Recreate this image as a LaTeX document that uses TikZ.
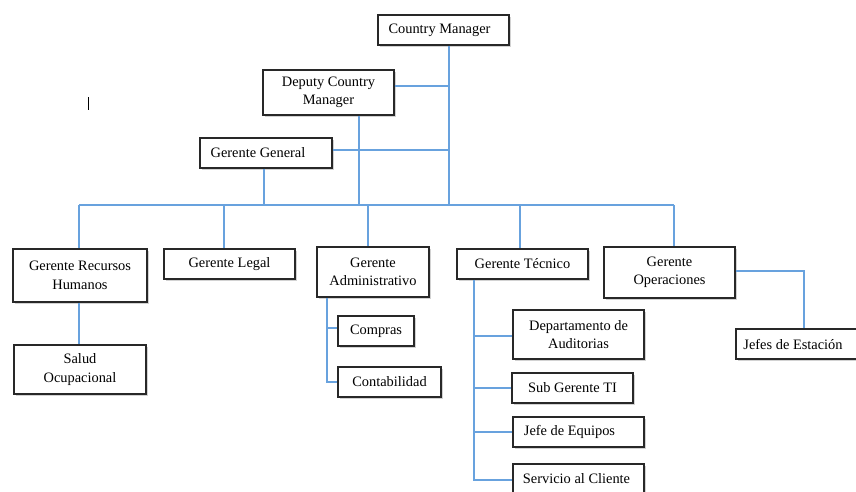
\documentclass[tikz,border=0pt]{standalone}
\usepackage{fontspec}
\setmainfont{Liberation Serif}
\usetikzlibrary{shadows}
\definecolor{linkblue}{RGB}{104,162,222}
\definecolor{boxline}{RGB}{40,40,40}
\begin{document}
\begin{tikzpicture}[x=1pt,y=-1pt,
  box/.style={draw=boxline,line width=1.1pt,fill=white,align=center,inner sep=0pt,
    font=\fontsize{14.4}{18.5}\selectfont,
    drop shadow={shadow xshift=1.5pt,shadow yshift=-1.5pt,opacity=0.35,fill=gray}},
  link/.style={draw=linkblue,line width=1.1pt}]
\useasboundingbox (0,0) rectangle (856,491);
\clip (0,0) rectangle (856,491);
\fill[white] (0,0) rectangle (856,491);

% text cursor mark
\draw[black,line width=1pt] (88,97) -- (88,110);

% top management
\node[box,minimum width=131pt,minimum height=30pt] (cm) at (443.5,30) {Country Manager\hspace*{8pt}};
\node[box,minimum width=131pt,minimum height=45pt] (dcm) at (328.5,92.5) {Deputy Country\\Manager};
\node[box,minimum width=132pt,minimum height=30pt] (gg) at (266,153) {Gerente General\hspace*{16pt}};

% managers
\node[box,minimum width=134pt,minimum height=53pt] (grh) at (80,275.5) {Gerente Recursos\\Humanos};
\node[box,minimum width=131pt,minimum height=30pt] (gl) at (229.5,264) {Gerente Legal};
\node[box,minimum width=112pt,minimum height=50pt] (ga) at (373,272) {Gerente\\Administrativo};
\node[box,minimum width=131pt,minimum height=30pt] (gt) at (522.5,264) {Gerente Técnico};
\node[box,minimum width=131pt,minimum height=51pt] (go) at (669.5,272.5) {Gerente\\Operaciones};

% departments
\node[box,minimum width=132pt,minimum height=49pt] (so) at (80,369.5) {Salud\\Ocupacional};
\node[box,minimum width=76pt,minimum height=30pt] (com) at (376,331) {Compras};
\node[box,minimum width=103pt,minimum height=30pt] (con) at (389.5,382) {Contabilidad};
\node[box,minimum width=131pt,minimum height=49pt] (da) at (578.5,334.5) {Departamento de\\Auditorias};
\node[box,minimum width=121pt,minimum height=30pt] (sg) at (572.5,388) {Sub Gerente TI};
\node[box,minimum width=131pt,minimum height=30pt] (je) at (578.5,432) {Jefe de Equipos\hspace*{18pt}};
\node[box,minimum width=131pt,minimum height=30pt] (sc) at (578.5,479) {Servicio al Cliente\hspace*{4pt}};
\node[box,minimum width=126pt,minimum height=30pt] (jes) at (799,344) {Jefes de Estación\hspace*{12pt}};

% junction points
\coordinate (trunk) at (449,205);
\coordinate (j1) at (449,86);
\coordinate (j2) at (449,150);
\coordinate (b1) at (79,205);
\coordinate (b2) at (264,205);
\coordinate (b3) at (359,205);
\coordinate (bl) at (224,205);
\coordinate (ba) at (368,205);
\coordinate (bt) at (520,205);
\coordinate (bo) at (674,205);
\coordinate (ta) at (327,382);
\coordinate (tt) at (474,480);
\coordinate (oc) at (804,271);

% top trunk and bus
\draw[link] (trunk |- cm.south) -- (trunk);
\draw[link] (j1 -| dcm.east) -- (j1);
\draw[link] (j2 -| gg.east) -- (j2);
\draw[link] (b3 |- dcm.south) -- (b3);
\draw[link] (b2 |- gg.south) -- (b2);
\draw[link] (b1) -- (bo);
\draw[link] (b1) -- (b1 |- grh.north);
\draw[link] (bl) -- (bl |- gl.north);
\draw[link] (ba) -- (ba |- ga.north);
\draw[link] (bt) -- (bt |- gt.north);
\draw[link] (bo) -- (bo |- go.north);

% branches below managers
\draw[link] (b1 |- grh.south) -- (b1 |- so.north);
\draw[link] (ta |- ga.south) -- (ta) -- (con.west);
\draw[link] (ta |- 0,328) -- (com.west |- 0,328);
\draw[link] (tt |- gt.south) -- (tt) -- (sc.west |- tt);
\draw[link] (tt |- 0,336) -- (da.west |- 0,336);
\draw[link] (tt |- sg.west) -- (sg.west);
\draw[link] (tt |- je.west) -- (je.west);
\draw[link] (oc -| go.east) -- (oc) -- (oc |- jes.north);
\end{tikzpicture}
\end{document}
